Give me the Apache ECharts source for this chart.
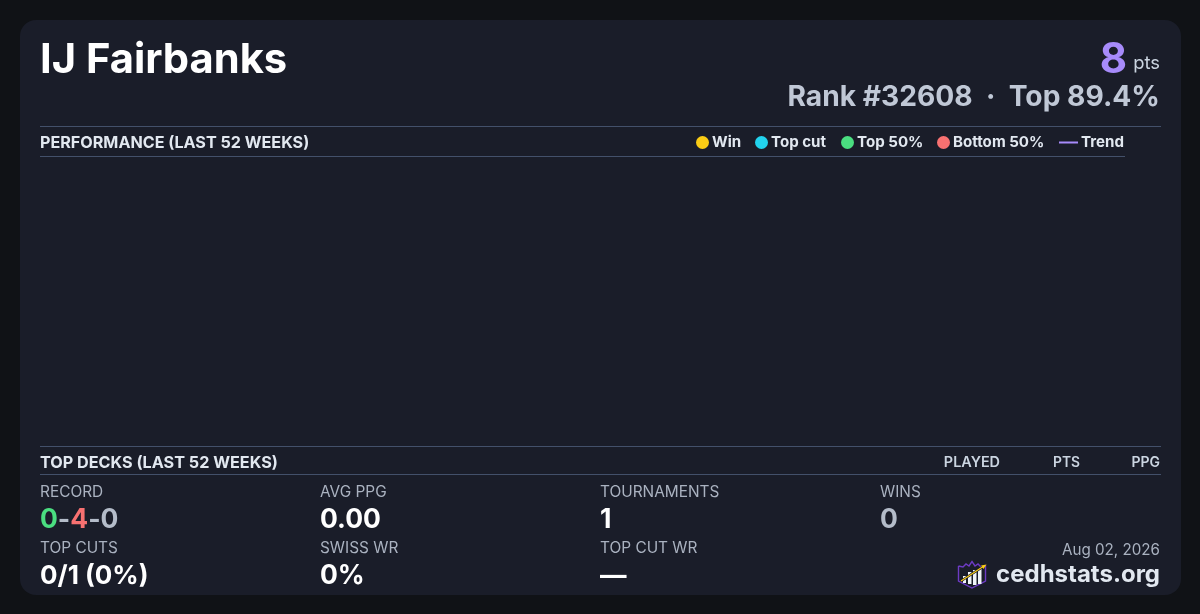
<!DOCTYPE html>
<html><head><meta charset="utf-8">
<style>html,body{margin:0;padding:0;background:#101216}#c{width:1200px;height:614px}</style>
<script src="https://cdn.jsdelivr.net/npm/echarts@6/dist/echarts.min.js"></script></head>
<body><div id="c"></div>
<script>
const playerName = 'IJ Fairbanks';
const points = '8';
const rankLine = 'Rank #32608  ·  Top 89.4%';
const legendNames = ['Win','Top cut','Top 50%','Bottom 50%','Trend'];
const legendColors = ['#facc15','#22d3ee','#4ade80','#f87171','#a78bfa'];
const legendLefts = [696,755,841,937,1059];
const deckColumns = ['PLAYED','PTS','PPG'];
const statLabels = ['RECORD','AVG PPG','TOURNAMENTS','WINS','TOP CUTS','SWISS WR','TOP CUT WR'];
const statValues = ['{g|0}{m|-}{r|4}{m|-}{z|0}','0.00','1','{z|0}','0/1 (0%)','0%','—'];
const weeks = [];
const winPoints = [], topCutPoints = [], top50Points = [], bottom50Points = [], trendPoints = [];

const F = 'Inter';
const chart = echarts.init(document.getElementById('c'), null, {renderer:'canvas', width:1200, height:614});
const t = (x,y,text,size,weight,fill,align,extra) => ({type:'text', x, y, silent:true, style:Object.assign({text, fontFamily:F, fontSize:size, fontWeight:weight, fill, align:align||'left', verticalAlign:'middle'}, extra||{})});
const rule = (y,x2) => ({type:'rect', silent:true, shape:{x:40,y:y,width:x2-40,height:1}, style:{fill:'#43506a'}});
const colX = [40,320,600,880];
const stats = [];
const VS = 26.5;
statLabels.forEach((l,i)=>{
  const cx = colX[i%4], row = i<4?0:1;
  stats.push(t(cx, row?548.5:492.5, l, 15.4, 400, '#aab2c0'));
  const r = c => ({fill:c,fontFamily:F,fontSize:VS,fontWeight:700});
  const rich = {g:r('#4ade80'),r:r('#f87171'),m:r('#b4bcc9'),z:r('#b4bcc9')};
  stats.push(t(cx, row?576:520, statValues[i], i===4?26:VS, 700, '#fff', 'left', {rich}));
});
const logo = {type:'group', x:958, y:561, silent:true, children:[
  {type:'polyline', shape:{points:[[0.5,5],[5,6],[8,3],[11,5],[14,0.5],[17,5],[20,3],[23,6],[27.5,5],[27.5,20],[14,27],[0.5,20],[0.5,5]]}, style:{fill:'none',stroke:'#6d3bc4',lineWidth:1.4}},
  {type:'rect', shape:{x:5,y:15,width:3,height:7}, style:{fill:'#f1f5f9'}},
  {type:'rect', shape:{x:10,y:11,width:3.5,height:12}, style:{fill:'#f1f5f9'}},
  {type:'rect', shape:{x:15,y:9,width:3.5,height:15}, style:{fill:'#f1f5f9'}},
  {type:'rect', shape:{x:20,y:8,width:3.5,height:15}, style:{fill:'#f1f5f9'}},
  {type:'line', shape:{x1:3,y1:20,x2:26,y2:5}, style:{stroke:'#1a1d29',lineWidth:2.6}},
  {type:'line', shape:{x1:3,y1:20,x2:26,y2:5}, style:{stroke:'#facc15',lineWidth:1.2}},
  {type:'polygon', shape:{points:[[28.5,3.5],[23,4.5],[25.5,8]]}, style:{fill:'#facc15'}}
]};
chart.setOption({
  backgroundColor:'#101216', animation:false,
  grid:{left:40,right:75,top:157,height:289,containLabel:false},
  xAxis:{type:'category',data:weeks,show:false},
  yAxis:{type:'value',show:false},
  legend: legendNames.map((n,i)=>({
    show:true, data:[n], left:legendLefts[i], top:135, padding:0,
    itemWidth:i===4?19:13, itemHeight:13, icon:i===4?'path://M0 0H19V2H0Z':'circle',
    itemStyle:{opacity:1,borderWidth:0}, lineStyle:{width:0},
    textStyle:{color:'#e2e8f0',fontFamily:F,fontSize:15.1,fontWeight:700,padding:[0,0,0,-2]}
  })),
  series:[
    {name:'Win',type:'scatter',data:winPoints,itemStyle:{color:legendColors[0],opacity:1}},
    {name:'Top cut',type:'scatter',data:topCutPoints,itemStyle:{color:legendColors[1],opacity:1}},
    {name:'Top 50%',type:'scatter',data:top50Points,itemStyle:{color:legendColors[2],opacity:1}},
    {name:'Bottom 50%',type:'scatter',data:bottom50Points,itemStyle:{color:legendColors[3],opacity:1}},
    {name:'Trend',type:'line',data:trendPoints,showSymbol:false,itemStyle:{color:legendColors[4]},lineStyle:{color:legendColors[4],width:2}}
  ],
  graphic:[
    {type:'rect',silent:true,z:-1,shape:{x:20,y:20,width:1161,height:575,r:16},style:{fill:'#1a1d29'}},
    t(40,60.5,playerName,41.7,700,'#ffffff'),
    t(1127,60.5,points,42,700,'#a78bfa','right'),
    t(1160,63,'pts',18.4,400,'#cbd5e1','right'),
    t(1160,98,rankLine,28.2,700,'#c0c8d6','right',{}),
    rule(126,1161), rule(156,1125), rule(446,1161), rule(474,1161),
    t(40,143,'PERFORMANCE (LAST 52 WEEKS)',16.15,700,'#e2e8f0'),
    t(40,463,'TOP DECKS (LAST 52 WEEKS)',16.2,700,'#e2e8f0'),
    t(1000,463,deckColumns[0],14.4,600,'#cbd5e1','right'),
    t(1080,463,deckColumns[1],13.8,600,'#cbd5e1','right'),
    t(1160,463,deckColumns[2],14,600,'#cbd5e1','right'),
    ...stats,
    t(1160,550.5,'Aug 02, 2026',15.2,400,'#aab2c0','right'),
    t(1160,575,'cedhstats.org',24,700,'#e2e8f0','right'),
    logo
  ]
});
</script></body></html>
